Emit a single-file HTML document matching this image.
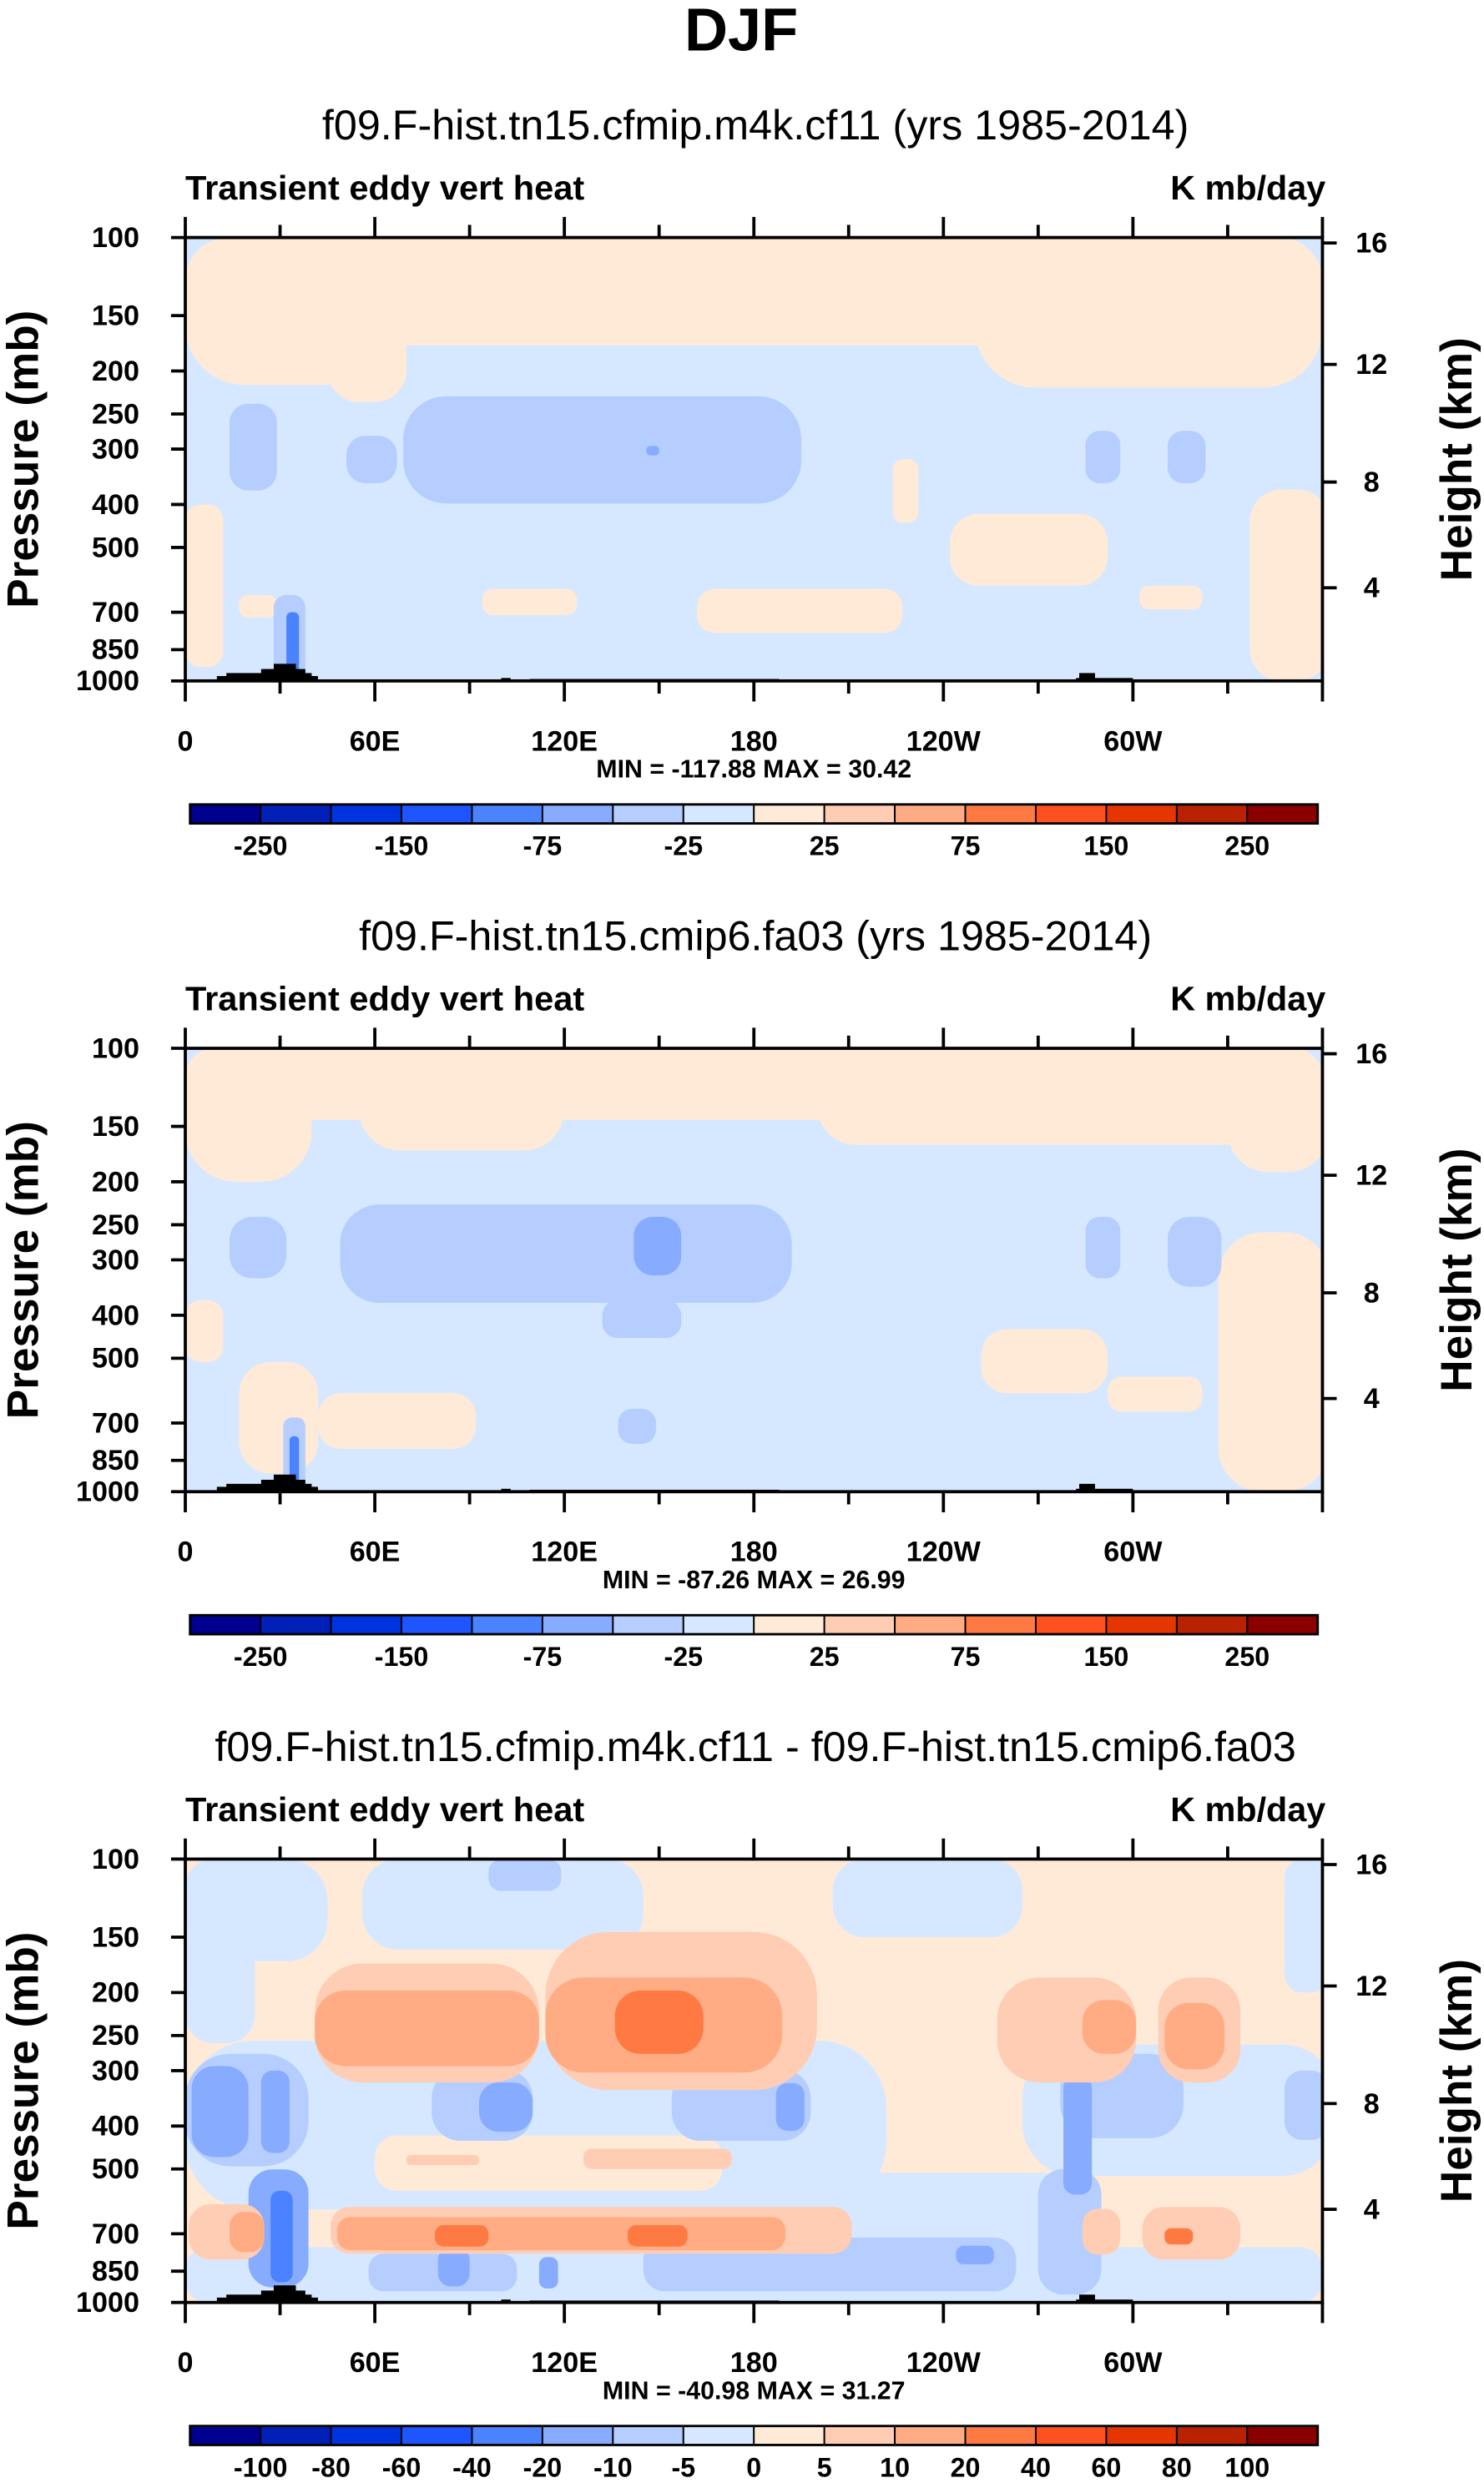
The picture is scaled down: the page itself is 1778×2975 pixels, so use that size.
<!DOCTYPE html>
<html><head><meta charset="utf-8"><style>
html,body{margin:0;padding:0;background:#fff}
svg{display:block}
text{font-family:"Liberation Sans",Arial,sans-serif}
</style></head><body>
<svg id="fig" xmlns="http://www.w3.org/2000/svg" width="1778" height="2975" viewBox="0 0 937 1568" preserveAspectRatio="none">
<text x="468" y="32" text-anchor="middle" font-size="38" font-weight="bold">DJF</text>
</svg>
<script>
// ---- data ----
const colors = ["#000090","#0020b8","#0033e0","#1e55ff","#4a82ff","#86abff","#b5cdff","#d6e8ff","#ffead8","#ffcdb3","#ffac85","#ff7a42","#ff5020","#e63600","#b82200","#8a0000"];
const cbLabelsAbs = ["-250","-150","-75","-25","25","75","150","250"];
const cbLabelsDiff = ["-100","-80","-60","-40","-20","-10","-5","0","5","10","20","40","60","80","100"];
const pressureTicks = [100,150,200,250,300,400,500,700,850,1000];
const heightTicks = [16,12,8,4];
const lonTicks = [0,60,120,180,240,300];
const lonLabels = ["0","60E","120E","180","120W","60W"];
const subtitles = ["f09.F-hist.tn15.cfmip.m4k.cf11 (yrs 1985-2014)","f09.F-hist.tn15.cmip6.fa03 (yrs 1985-2014)","f09.F-hist.tn15.cfmip.m4k.cf11 - f09.F-hist.tn15.cmip6.fa03"];
const minMax = ["MIN = -117.88  MAX =  30.42","MIN = -87.26  MAX =  26.99","MIN = -40.98  MAX =  31.27"];
const backgrounds = [7,7,8];
// blobs: [lon0, lon1, p0, p1, colorIndex]
const panel1Blobs = [
 [0,360,100,175,8],[0,62,100,215,8],[250,360,100,218,8],[45,70,100,235,8],
 [0,12,400,930,8],[17,29,640,720,8],[94,124,620,710,8],[162,227,620,780,8],
 [242,292,420,610,8],[302,322,610,690,8],[337,362,370,1000,8],[224,232,316,440,8],
 [69,195,228,398,6],[14,29,237,372,6],[51,67,280,358,6],[285,296,273,358,6],[311,323,273,358,6],
 [28,38,640,1000,6],[32,36,700,960,4],[146,150,295,310,5]
];
const panel2Blobs = [
 [0,360,100,145,8],[0,40,100,200,8],[55,120,100,170,8],[200,360,100,165,8],[330,362,100,190,8],
 [0,12,370,510,8],[17,42,510,910,8],[42,92,600,800,8],[252,292,430,600,8],[292,322,550,660,8],[327,362,260,1000,8],
 [49,192,225,375,6],[14,32,240,330,6],[285,296,240,330,6],[311,328,240,345,6],[132,157,370,450,6],
 [142,157,240,325,5],[31,38,680,1000,6],[137,149,650,780,6],[33,36,750,960,4]
];
const panel3Blobs = [
 [0,360,750,1000,7],[166,287,510,1000,7],[0,222,257,617,7],[265,364,262,518,7],
 [0,45,100,170,7],[0,22,100,260,7],[56,145,100,160,7],[205,265,100,150,7],[348,362,100,200,7],
 [60,170,420,560,8],[96,119,100,118,6],
 [0,39,275,493,6],[78,110,298,432,6],[154,198,298,432,6],[277,316,275,426,6],[348,362,300,430,6],
 [58,105,776,944,6],[145,263,714,944,6],[270,290,500,960,6],
 [2,20,293,470,5],[24,33,300,460,5],[93,110,319,412,5],[187,196,320,410,5],[278,287,309,571,5],
 [244,256,745,820,5],[112,118,790,930,5],[80,90,750,920,5],
 [20,39,501,925,5],[27,34,560,900,4],
 [41,112,172,319,9],[114,200,146,332,9],[257,301,185,319,9],[308,334,185,319,9],
 [126,173,450,500,9],[70,93,465,490,9],
 [46,211,609,776,9],[1,25,600,800,9],[284,296,615,780,9],[303,334,609,800,9],
 [41,112,198,293,10],[114,189,185,303,10],[284,301,208,275,10],[310,329,211,298,10],
 [48,190,642,762,10],[14,25,625,770,10],
 [136,164,198,275,11],[79,96,669,748,11],[140,159,669,748,11],[310,319,680,740,11]
];
const blobSets = [panel1Blobs,panel2Blobs,panel3Blobs];
// topography: [lon0, lon1, pTop]
const topo = [[10,42,975],[13,40,960],[24,38,940],[28,35,915],[100,103,985],[109,188,990],[282,300,985],[283,288,960]];
// ---- layout ----
const NS="http://www.w3.org/2000/svg";
const svg=document.getElementById('fig');
const X0=117,X1=835,PH=280;
const tops=[150,662,1174];
function xOf(lon){return X0+lon/360*(X1-X0);}
function yOf(p,top){return top+PH*Math.log10(p/100);}
function zToP(z){z*=1000;if(z<=11000)return 1013.25*Math.pow(1-2.2558e-5*z,5.2559);return 226.32*Math.exp(-(z-11000)/6341.6);}
function mk(tag,attrs,parent){const e=document.createElementNS(NS,tag);for(const k in attrs)e.setAttribute(k,attrs[k]);(parent||svg).appendChild(e);return e;}
function txt(s,attrs,parent){const e=mk('text',attrs,parent);e.textContent=s;return e;}

tops.forEach((top,pi)=>{
  const g=mk('g',{});
  
  
  const st=txt(subtitles[pi],{x:477,y:top-62,'text-anchor':'middle','font-size':26.5},g);
  
  
  const lt=txt("Transient eddy vert heat",{x:117,y:top-24,'font-size':21.5,'font-weight':'bold',textLength:252,lengthAdjust:'spacingAndGlyphs'},g);
  
  
  const ut=txt("K mb/day",{x:739,y:top-24,'font-size':21.5,'font-weight':'bold',textLength:98,lengthAdjust:'spacingAndGlyphs'},g);
  
  
  const cp=mk('clipPath',{id:'clip'+pi},g);
  mk('rect',{x:X0,y:top,width:X1-X0,height:PH},cp);
  const field=mk('g',{'clip-path':'url(#clip'+pi+')'},g);
  
  
  const bg=mk('rect',{x:X0,y:top,width:X1-X0,height:PH,fill:colors[backgrounds[pi]]},field);
  
  
  blobSets[pi].forEach(b=>{
    const x0=xOf(b[0]),x1=xOf(b[1]),y0=yOf(b[2],top),y1=yOf(b[3],top);
    const w=x1-x0,h=y1-y0,r=Math.min(w,h)*0.4;
    const e=mk('rect',{x:x0,y:y0,width:w,height:h,rx:r,ry:r,fill:colors[b[4]]},field);
    
    
  });
  topo.forEach(t=>{
    const y=yOf(t[2],top);
    const e=mk('rect',{x:xOf(t[0]),y:y,width:xOf(t[1])-xOf(t[0]),height:top+PH-y,fill:'#000'},field);
    
    
  });
  const fr=mk('rect',{x:X0,y:top,width:X1-X0,height:PH,fill:'none',stroke:'#000','stroke-width':2},g);
  
  
  for(let lon=0;lon<=360;lon+=30){
    const x=xOf(lon),L=(lon%60===0)?13:8;
    mk('line',{x1:x,y1:top,x2:x,y2:top-L,stroke:'#000','stroke-width':2},g);
    mk('line',{x1:x,y1:top+PH,x2:x,y2:top+PH+L,stroke:'#000','stroke-width':2},g);
  }
  lonTicks.forEach((lon,i)=>{
    const t=txt(lonLabels[i],{x:xOf(lon),y:top+PH+44,'text-anchor':'middle','font-size':18,'font-weight':'bold'},g);
    
    
  });
  pressureTicks.forEach(p=>{
    const y=yOf(p,top);
    mk('line',{x1:X0-9,y1:y,x2:X0,y2:y,stroke:'#000','stroke-width':2},g);
    const t=txt(String(p),{x:88,y:y+6,'text-anchor':'end','font-size':18,'font-weight':'bold'},g);
    
    
  });
  heightTicks.forEach(z=>{
    const y=yOf(zToP(z),top);
    mk('line',{x1:X1,y1:y,x2:X1+9,y2:y,stroke:'#000','stroke-width':2},g);
    const t=txt(String(z),{x:866,y:y+6,'text-anchor':'middle','font-size':18,'font-weight':'bold'},g);
    
    
  });
  const ya=txt("Pressure (mb)",{x:0,y:0,transform:`translate(24,${top+140}) rotate(-90)`,'text-anchor':'middle','font-size':28,'font-weight':'bold'},g);
  
  
  const ya2=txt("Height (km)",{x:0,y:0,transform:`translate(929,${top+140}) rotate(-90)`,'text-anchor':'middle','font-size':28,'font-weight':'bold'},g);
  
  
  const mm=txt(minMax[pi],{x:476,y:top+PH+61,'text-anchor':'middle','font-size':16,'font-weight':'bold'},g);
  
  
  const cy=top+358, cw=712/16;
  const cb=mk('g',{},g);
  
  
  colors.forEach((c,i)=>{
    const r=mk('rect',{x:120+i*cw,y:cy,width:cw,height:12,fill:c,stroke:'#000','stroke-width':1},cb);
    
    
  });
  mk('rect',{x:120,y:cy,width:712,height:12,fill:'none',stroke:'#000','stroke-width':1.5},cb);
  const labs=pi<2?cbLabelsAbs:cbLabelsDiff;
  labs.forEach((s,i)=>{
    const k=pi<2?(2*i+1):(i+1);
    const t=txt(s,{x:120+k*cw,y:cy+32,'text-anchor':'middle','font-size':17,'font-weight':'bold'},cb);
    
    
  });
});
</script>
</body></html>
